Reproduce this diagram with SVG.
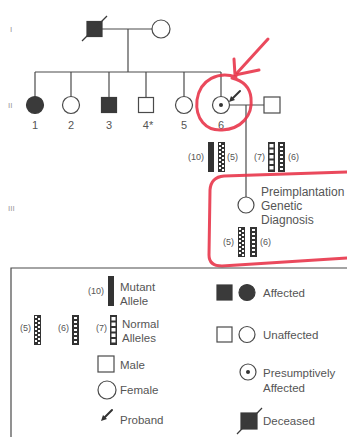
<svg xmlns="http://www.w3.org/2000/svg" width="347" height="437" viewBox="0 0 347 437">
<style>
.ln{stroke:#4a4a4a;stroke-width:1.2;fill:none}
.sym{stroke:#4a4a4a;stroke-width:1.2;fill:#fff}
.aff{stroke:#3a3a3a;stroke-width:1.2;fill:#3a3a3a}
.t{font-family:"Liberation Sans",Arial,sans-serif;font-size:11.5px;fill:#555}
.n{font-family:"Liberation Sans",Arial,sans-serif;font-size:11px;fill:#555;text-anchor:middle}
.a{font-family:"Liberation Sans",Arial,sans-serif;font-size:9px;fill:#555}
.r{font-family:"Liberation Sans",Arial,sans-serif;font-size:8px;fill:#999}
.red{stroke:#e8354a;stroke-width:3;fill:none;stroke-linecap:round;stroke-linejoin:round;opacity:0.9}
</style>
<defs>
<g id="barM"><rect x="0" y="0" width="6" height="30" fill="#333"/></g>
<g id="bar5"><rect x="0" y="0" width="7" height="30" fill="#333"/>
<g fill="#fff"><rect x="1" y="1" width="2" height="2"/><rect x="4" y="3" width="2" height="2"/><rect x="1" y="5" width="2" height="2"/><rect x="4" y="7" width="2" height="2"/><rect x="1" y="9" width="2" height="2"/><rect x="4" y="11" width="2" height="2"/><rect x="1" y="13" width="2" height="2"/><rect x="4" y="15" width="2" height="2"/><rect x="1" y="17" width="2" height="2"/><rect x="4" y="19" width="2" height="2"/><rect x="1" y="21" width="2" height="2"/><rect x="4" y="23" width="2" height="2"/><rect x="1" y="25" width="2" height="2"/><rect x="4" y="27" width="2" height="2"/></g></g>
<g id="bar6"><rect x="0" y="0" width="7" height="30" fill="#333"/>
<g fill="#fff"><rect x="2" y="2" width="3" height="2"/><rect x="2" y="6" width="3" height="2"/><rect x="2" y="10" width="3" height="2"/><rect x="2" y="14" width="3" height="2"/><rect x="2" y="18" width="3" height="2"/><rect x="2" y="22" width="3" height="2"/><rect x="2" y="26" width="3" height="2"/></g></g>
<g id="bar7"><rect x="0" y="0" width="7" height="30" fill="#333"/>
<g fill="#fff"><rect x="1.5" y="2" width="4" height="3.5"/><rect x="1.5" y="7.5" width="4" height="3.5"/><rect x="1.5" y="13" width="4" height="3.5"/><rect x="1.5" y="18.5" width="4" height="3.5"/><rect x="1.5" y="24" width="4" height="3.5"/></g></g>
<g id="proband"><line x1="11" y1="-11" x2="4" y2="-4" stroke="#333" stroke-width="2" stroke-linecap="round"/><polygon points="0,0 2,-6 6,-2" fill="#333"/></g>
</defs>

<!-- generation labels -->
<text class="r" x="10" y="32">I</text>
<text class="r" x="8" y="108">II</text>
<text class="r" x="8" y="211">III</text>

<!-- connectors -->
<g id="connectors" class="ln">
<line x1="102" y1="29" x2="152" y2="29"/>
<line x1="128" y1="29" x2="128" y2="72"/>
<line x1="35" y1="72" x2="221" y2="72"/>
<line x1="35" y1="72" x2="35" y2="96.5"/>
<line x1="71" y1="72" x2="71" y2="96.5"/>
<line x1="109" y1="72" x2="109" y2="97.5"/>
<line x1="146" y1="72" x2="146" y2="97.5"/>
<line x1="184" y1="72" x2="184" y2="96.5"/>
<line x1="221" y1="72" x2="221" y2="96.5"/>
<line x1="230" y1="105" x2="264" y2="105"/>
<line x1="246" y1="105" x2="246" y2="197"/>
</g>

<!-- generation I -->
<g id="I-1">
<rect class="aff" x="87" y="21.5" width="15" height="15"/>
<line x1="82" y1="41" x2="107" y2="16" stroke="#3a3a3a" stroke-width="1.2"/>
</g>
<g id="I-2"><circle class="sym" cx="161" cy="29" r="9"/></g>

<!-- generation II -->
<g id="II-1"><circle class="aff" cx="35" cy="105" r="8.5"/><text class="n" x="35" y="129">1</text></g>
<g id="II-2"><circle class="sym" cx="71" cy="105" r="8.5"/><text class="n" x="71" y="129">2</text></g>
<g id="II-3"><rect class="aff" x="101.5" y="97.5" width="15" height="15"/><text class="n" x="109" y="129">3</text></g>
<g id="II-4"><rect class="sym" x="138.5" y="97.5" width="15" height="15"/><text class="n" x="148" y="129">4*</text></g>
<g id="II-5"><circle class="sym" cx="184" cy="105" r="8.5"/><text class="n" x="184" y="129">5</text></g>
<g id="II-6"><circle class="sym" cx="221" cy="105" r="8.5"/><circle cx="221" cy="105" r="2" fill="#333"/>
<use href="#proband" x="229" y="102"/>
<text class="n" x="221" y="129">6</text></g>
<g id="II-6-spouse"><rect class="sym" x="264" y="97" width="16" height="16"/></g>

<!-- alleles -->
<g id="alleles-II-6">
<text class="a" x="204" y="160" text-anchor="end">(10)</text>
<use href="#barM" x="208" y="142"/>
<use href="#bar5" x="218" y="142"/>
<text class="a" x="227" y="160">(5)</text>
</g>
<g id="alleles-spouse">
<text class="a" x="265" y="160" text-anchor="end">(7)</text>
<use href="#bar7" x="268" y="142"/>
<use href="#bar6" x="278" y="142"/>
<text class="a" x="288" y="160">(6)</text>
</g>

<!-- generation III -->
<g id="III-1">
<circle class="sym" cx="246" cy="205" r="8"/>
<text class="t" x="261" y="196" style="font-size:12px">Preimplantation</text>
<text class="t" x="261" y="210" style="font-size:12px">Genetic</text>
<text class="t" x="261" y="224" style="font-size:12px">Diagnosis</text>
<text class="a" x="234" y="245" text-anchor="end">(5)</text>
<use href="#bar5" x="238" y="227"/>
<use href="#bar6" x="250" y="227"/>
<text class="a" x="260" y="245">(6)</text>
</g>

<!-- red annotations -->
<g id="annotations">
<path class="red" d="M268,39 L237,73"/>
<path class="red" d="M234,59 L235,75 L259,70"/>
<path class="red" d="M236,77 C219,71 200,79 197,100 C195,119 206,131 222,130 C241,129 253,116 251,98 C250,88 244,81 232,78"/>
<path class="red" d="M347,172 L224,176 Q211,177 210,190 L209,255 Q209,266 222,266 L347,258"/>
</g>

<!-- legend -->
<g id="legend">
<path class="ln" d="M347,268 H11 V437"/>
<text class="a" x="104" y="294" text-anchor="end">(10)</text>
<use href="#barM" x="108" y="276"/>
<text class="t" x="120" y="291">Mutant</text>
<text class="t" x="120" y="305">Allele</text>

<text class="a" x="31" y="331" text-anchor="end">(5)</text>
<use href="#bar5" x="34" y="315"/>
<text class="a" x="69" y="331" text-anchor="end">(6)</text>
<use href="#bar6" x="72" y="315"/>
<text class="a" x="107" y="331" text-anchor="end">(7)</text>
<use href="#bar7" x="110" y="315"/>
<text class="t" x="122" y="328">Normal</text>
<text class="t" x="122" y="342">Alleles</text>

<rect class="sym" x="98" y="356" width="16" height="16"/>
<text class="t" x="120" y="369">Male</text>
<circle class="sym" cx="107" cy="390" r="9"/>
<text class="t" x="120" y="394">Female</text>
<use href="#proband" x="101" y="421"/>
<text class="t" x="120" y="424">Proband</text>

<rect class="aff" x="217" y="285" width="15" height="15"/>
<circle class="aff" cx="247" cy="292.5" r="8"/>
<text class="t" x="263" y="297">Affected</text>
<rect class="sym" x="217" y="327" width="15" height="15"/>
<circle class="sym" cx="247" cy="334.5" r="8"/>
<text class="t" x="263" y="339">Unaffected</text>
<circle class="sym" cx="248" cy="372" r="8"/>
<circle cx="248" cy="372" r="2" fill="#333"/>
<text class="t" x="263" y="377">Presumptively</text>
<text class="t" x="263" y="392">Affected</text>
<rect class="aff" x="241" y="413" width="16" height="16"/>
<line x1="237" y1="434" x2="262" y2="408" stroke="#3a3a3a" stroke-width="1.2"/>
<text class="t" x="263" y="425">Deceased</text>
</g>
</svg>
